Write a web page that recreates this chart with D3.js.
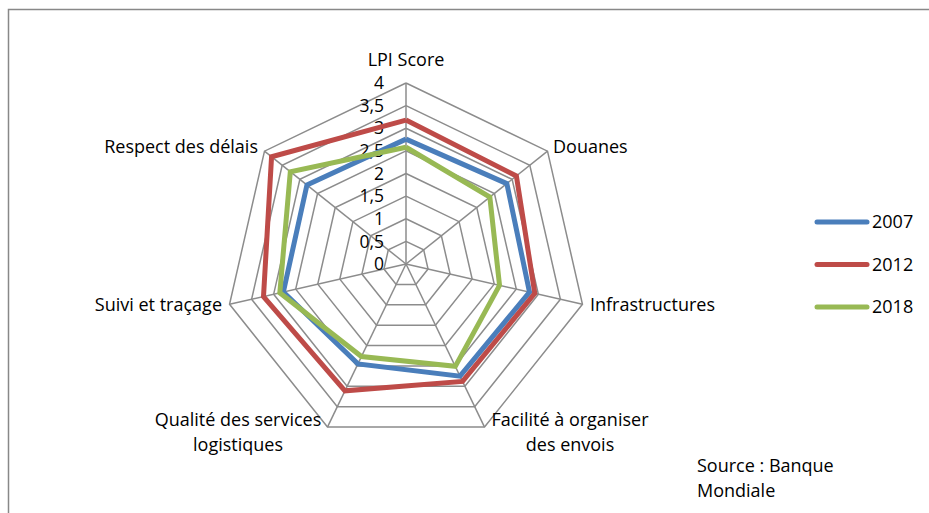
<!DOCTYPE html>
<html><head><meta charset="utf-8">
<script src="https://cdn.jsdelivr.net/npm/d3@7"></script>
<style>body{margin:0;background:#fff}svg{display:block}text{font-family:"Open Sans","Noto Sans",sans-serif;fill:#000}</style>
</head><body>
<svg id="c" width="929" height="513"></svg>
<script>
const categories = ["LPI Score","Douanes","Infrastructures","Facilité à organiser|des envois","Qualité des services|logistiques","Suivi et traçage","Respect des délais"];
const years = ["2007","2012","2018"];
const v2007 = [2.76, 2.85, 2.80, 2.75, 2.45, 2.78, 2.80];
const v2012 = [3.18, 3.12, 2.92, 2.88, 3.11, 3.23, 3.80];
const v2018 = [2.58, 2.37, 2.12, 2.51, 2.27, 2.86, 3.27];
const tickValues = [0,0.5,1,1.5,2,2.5,3,3.5,4];
const tickLabels = ["0","0,5","1","1,5","2","2,5","3","3,5","4"];
const colors = ["#4a7ebb","#be4b48","#98b954"];
const series = [v2007, v2012, v2018];

const svg = d3.select("#c");
const cx = 406, cy = 264, R = 181;
const r = d3.scaleLinear().domain([0,4]).range([0,R]);
const n = categories.length;
const ang = d3.scaleLinear().domain([0,n]).range([0,2*Math.PI]);
const pt = (i,v)=>[cx + r(v)*Math.sin(ang(i)), cy - r(v)*Math.cos(ang(i))];
const FS = "18px";

// outer frame
svg.append("path").attr("d","M8.5,513 L8.5,9.5 L929,9.5").attr("fill","none").attr("stroke","#888").attr("stroke-width",1.5);

const g = svg.append("g");
// grid rings
tickValues.slice(1).forEach(t=>{
  g.append("path").attr("d", d3.line()(d3.range(n+1).map(i=>pt(i%n,t))))
   .attr("fill","none").attr("stroke","#8c8c8c").attr("stroke-width",1.5);
});
// spokes
d3.range(n).forEach(i=>{
  g.append("line").attr("x1",cx).attr("y1",cy).attr("x2",pt(i,4)[0]).attr("y2",pt(i,4)[1])
   .attr("stroke","#8c8c8c").attr("stroke-width",1.5);
});
// tick labels
tickValues.forEach((t,k)=>{
  g.append("text").attr("x",cx-22).attr("y",cy - r(t)).attr("dy","0.35em")
   .attr("text-anchor","end").style("font-size","17.5px").text(tickLabels[k]);
});
// series
series.forEach((s,k)=>{
  g.append("path").attr("d", d3.line()(d3.range(n+1).map(i=>pt(i%n,s[i%n]))))
   .attr("fill","none").attr("stroke",colors[k]).attr("stroke-width",5).attr("stroke-linejoin","miter");
});
// category labels
const labelPos = [
  {x:406,y:60,a:"middle"},
  {x:553,y:147,a:"start"},
  {x:590,y:305,a:"start"},
  {x:570,y:420,a:"middle"},
  {x:238,y:420,a:"middle"},
  {x:222,y:305,a:"end"},
  {x:258,y:147,a:"end"}
];
categories.forEach((c,i)=>{
  const lines = c.split("|");
  const t = g.append("text").attr("text-anchor",labelPos[i].a).style("font-size",FS);
  lines.forEach((l,j)=>{
    t.append("tspan").attr("x",labelPos[i].x).attr("y",labelPos[i].y + j*25).attr("dy","0.35em").text(l);
  });
});
// legend
const ly = d3.scalePoint().domain(years).range([222,307]);
years.forEach((y,k)=>{
  svg.append("line").attr("x1",817).attr("x2",867).attr("y1",ly(y)).attr("y2",ly(y))
    .attr("stroke",colors[k]).attr("stroke-width",5).attr("stroke-linecap","round");
  svg.append("text").attr("x",872).attr("y",ly(y)).attr("dy","0.35em").style("font-size",FS).text(y);
});
// source
svg.append("text").attr("x",697).attr("y",466).attr("dy","0.35em").style("font-size",FS).text("Source : Banque");
svg.append("text").attr("x",697).attr("y",491).attr("dy","0.35em").style("font-size",FS).text("Mondiale");
</script>
</body></html>
